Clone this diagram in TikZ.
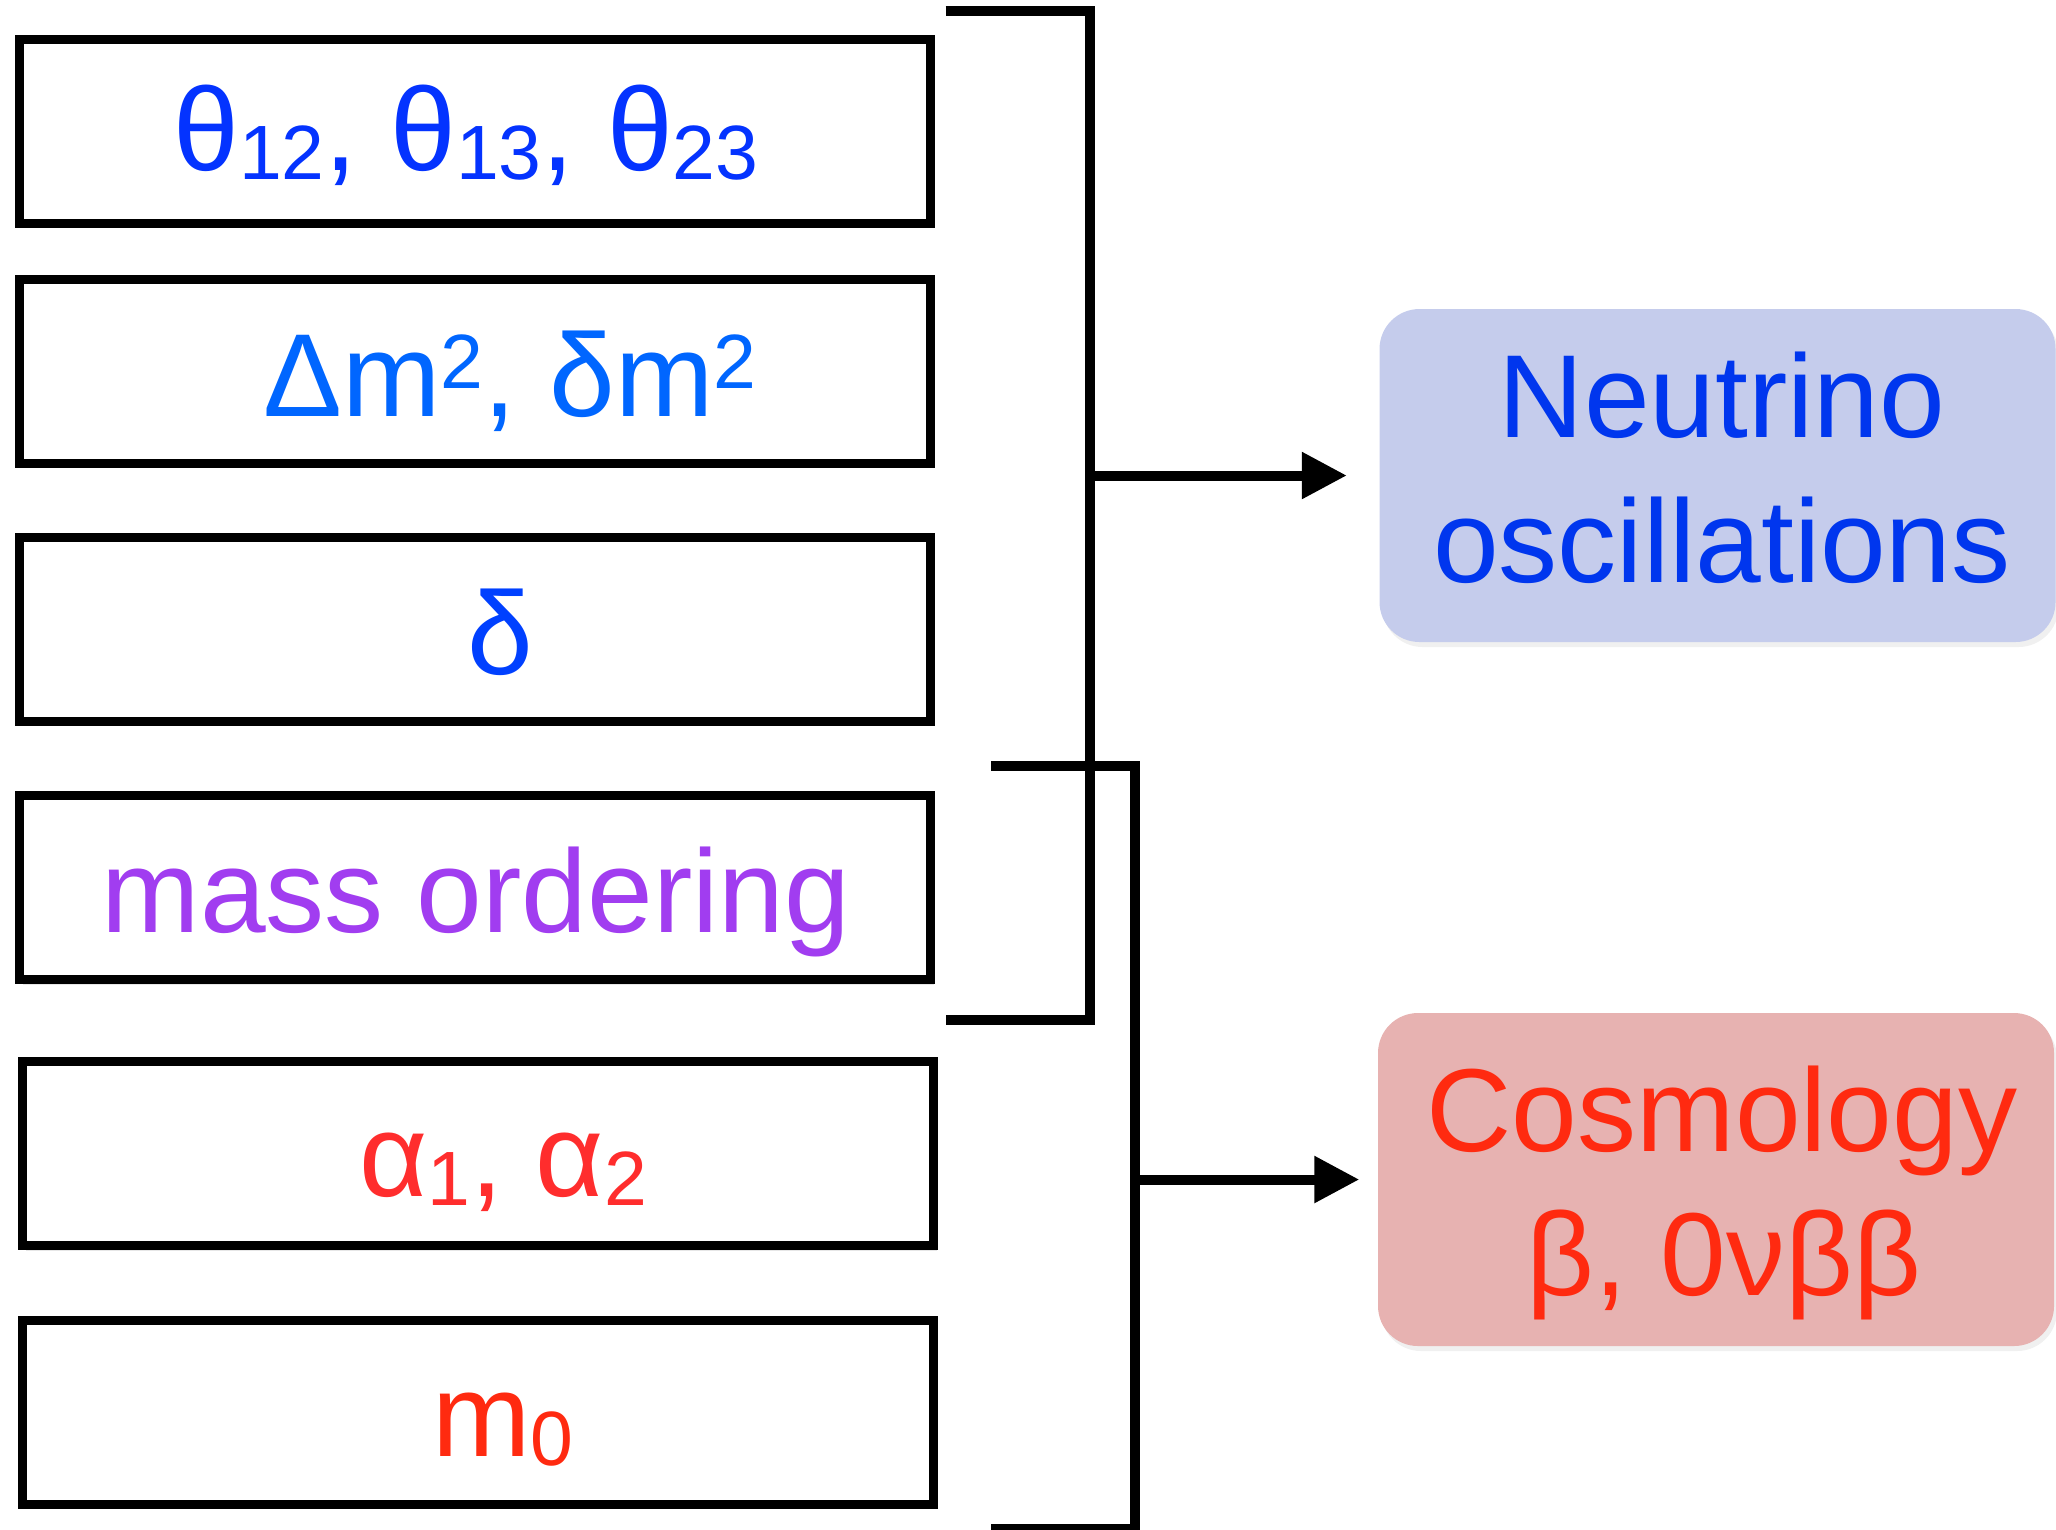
\documentclass[tikz,border=0pt]{standalone}
\usepackage{fontspec}
\setmainfont{Liberation Sans}
\usetikzlibrary{arrows.meta, shadows}
\definecolor{thblue}{HTML}{0433FF}
\definecolor{dmblue}{HTML}{0066FF}
\definecolor{dlblue}{HTML}{0040FF}
\definecolor{oscblue}{HTML}{0036EE}
\definecolor{mopurple}{HTML}{A13DF0}
\definecolor{alred}{HTML}{FF2D2D}
\definecolor{mzred}{HTML}{FF2A10}
\definecolor{oscfill}{HTML}{C5CCEC}
\definecolor{cosfill}{HTML}{E7B2B1}
\newcommand{\lowidx}[1]{\raisebox{-0.09cm}{\fontsize{21.9}{22}\selectfont #1}}
\newcommand{\highidx}[1]{\raisebox{0.28cm}{\fontsize{21.9}{22}\selectfont #1}}

\begin{document}
\begin{tikzpicture}[
    font=\fontsize{33.6}{41.3}\selectfont,
    param/.style={draw=black, line width=0.09cm, fill=white, minimum width=9.11cm,
        minimum height=1.84cm, inner sep=0pt,
        drop shadow={opacity=.2, shadow xshift=.03cm, shadow yshift=-.05cm}},
    ptext/.style={anchor=base, inner sep=0pt},
    result/.style={rounded corners=0.4cm, minimum width=6.76cm, minimum height=3.33cm,
        inner sep=0pt, drop shadow={opacity=.12, shadow xshift=.03cm, shadow yshift=-.05cm}},
    bracket/.style={line width=0.1cm, draw=black},
    arrow/.style={-{Triangle[length=4.5mm, width=4.46mm]}, line width=0.1cm, draw=black}
]

\useasboundingbox (0,0) rectangle (20.56,-15.29);

% Parameter boxes (left)
\node[param] (th) at (4.75,-1.31) {};
\node[param] (dm) at (4.75,-3.713) {};
\node[param] (dl) at (4.75,-6.294) {};
\node[param] (mo) at (4.75,-8.875) {};
\node[param] (al) at (4.784,-11.536) {};
\node[param] (mz) at (4.784,-14.12) {};

% Parameter labels
\node[ptext, color=thblue] (thtxt) at (4.66,-1.70) {θ\lowidx{12}, θ\lowidx{13}, θ\lowidx{23}};
\node[ptext, color=dmblue] (dmtxt) at (5.10,-4.16) {Δm\highidx{2}, δm\highidx{2}};
\node[ptext, color=dlblue] (dltxt) at (5.00,-6.74) {δ};
\node[ptext, color=mopurple] (motxt) at (4.76,-9.32) {mass ordering};
\node[ptext, color=alred] (altxt) at (5.03,-11.96) {α\lowidx{1}, α\lowidx{2}};
\node[ptext, color=mzred] (mztxt) at (5.03,-14.56) {m\lowidx{0}};

% Result boxes (right)
\node[result, fill=oscfill] (osc) at (17.175,-4.755) {};
\node[result, fill=cosfill] (cos) at (17.16,-11.795) {};
\node[ptext, color=oscblue] (osctop) at (17.22,-4.37) {Neutrino};
\node[ptext, color=oscblue] (oscbot) at (17.22,-5.82) {oscillations};
\node[ptext, color=mzred] (costop) at (17.22,-11.51) {Cosmology};
\node[ptext, color=mzred] (cosbot) at (17.24,-12.95) {β, 0νββ};

% Brackets
\coordinate (b1top) at (10.90,-0.11);
\coordinate (b1bot) at (10.90,-10.20);
\coordinate (b2top) at (11.35,-7.66);
\coordinate (b2bot) at (11.35,-15.293);
\draw[bracket] (9.456,-0.11) -- (b1top) -- (b1bot) -- (9.456,-10.20);
\draw[bracket] (9.91,-7.66) -- (b2top) -- (b2bot) -- (9.91,-15.293);

% Bracket to result flows
\draw[arrow, shorten >=3.2mm] (b1top |- osc.west) -- (osc.west);
\draw[arrow, shorten >=1.8mm] (b2top |- cos.west) -- (cos.west);

\end{tikzpicture}
\end{document}
